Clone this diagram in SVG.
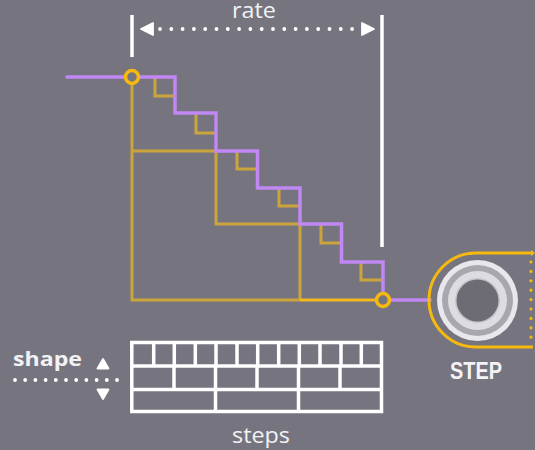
<svg xmlns="http://www.w3.org/2000/svg" width="535" height="450" viewBox="0 0 535 450">
<style>
.lbl{font-family:"Open Sans","Noto Sans","DejaVu Sans",sans-serif;fill:#f2f2f4;}
.gold{fill:none;stroke:#caa43c;stroke-width:3;stroke-linejoin:miter;}
.purple{fill:none;stroke:#c188f5;stroke-width:3.5;stroke-linejoin:miter;}
.white{stroke:#ffffff;stroke-width:3.5;fill:none;}
.dots{stroke:#ffffff;stroke-width:3.8;stroke-linecap:round;}
.tri{fill:#ffffff;stroke:#ffffff;stroke-width:1.8;stroke-linejoin:round;}
</style>
<rect width="535" height="450" fill="#76757f"/>

<g id="rate-indicator">
  <text class="lbl" x="254" y="18" font-size="21" text-anchor="middle" textLength="44" lengthAdjust="spacingAndGlyphs">rate</text>
  <line class="white" x1="132" y1="15" x2="132" y2="57"/>
  <line class="white" x1="382" y1="15" x2="382" y2="247"/>
  <path class="tri" d="M141,29 L153,23 L153,35 Z"/>
  <path class="tri" d="M374,29 L362,23 L362,35 Z"/>
  <line class="dots" x1="160" y1="29" x2="353" y2="29" stroke-dasharray="0 11.3"/>
</g>

<g id="connectors">
  <path class="gold" d="M132,77 L132,300 L300,300"/>
  <path class="gold" d="M132,151 L216,151 L216,224 L300,224 L300,300"/>
  <line x1="300" y1="300" x2="383" y2="300" stroke="#f2b81e" stroke-width="3"/>
  <path class="gold" d="M155,77 L155,96 L175,96 M196,113 L196,133 L216,133 M237,151 L237,169 L257.5,169 M279,188 L279,206 L300,206 M321,224 L321,243 L341.5,243 M361,262 L361,280 L383,280"/>
  <path class="purple" stroke-linecap="round" d="M67,77 L175,77 L175,113 L216,113 L216,151 L257.5,151 L257.5,188 L300,188 L300,224 L341.5,224 L341.5,262 L383,262 L383,300 L430,300"/>
</g>

<g id="start-point">
  <circle cx="132" cy="77" r="6.5" fill="#76757f" stroke="#f6b90f" stroke-width="3.5"/>
</g>
<g id="end-point">
  <circle cx="383" cy="300" r="6.5" fill="#76757f" stroke="#f6b90f" stroke-width="3.5"/>
</g>

<g id="step-jack">
  <path d="M533,253 L476,253 A47,47 0 0 0 476,347 L533,347" fill="none" stroke="#f6b90f" stroke-width="3"/>
  <path d="M531,250 L535,253 L531,256 Z" fill="#f6b90f"/>
  <line x1="531" y1="262" x2="531" y2="340" stroke="#f6b90f" stroke-width="3.2" stroke-linecap="round" stroke-dasharray="0 9.4"/>
  <circle cx="477.5" cy="300.5" r="40.5" fill="#e8e8ec"/>
  <circle cx="477.5" cy="300.5" r="35.5" fill="#a8a7af"/>
  <circle cx="477.5" cy="300.5" r="29.5" fill="#dddde1"/>
  <circle cx="477.5" cy="300.5" r="22.5" fill="#c4c4c9"/>
  <circle cx="477.5" cy="300.5" r="21" fill="#6d6c75"/>
  <text x="476" y="378.5" font-family="'Liberation Sans','DejaVu Sans',sans-serif" font-weight="bold" font-size="23" fill="#f4f4f6" text-anchor="middle" textLength="52" lengthAdjust="spacingAndGlyphs">STEP</text>
</g>

<g id="shape-control">
  <text class="lbl" x="13" y="366" font-size="20" font-weight="bold" textLength="69" lengthAdjust="spacingAndGlyphs">shape</text>
  <line class="dots" x1="15" y1="380" x2="117" y2="380" stroke-dasharray="0 10.2"/>
  <path class="tri" d="M103,359 L108.5,368.5 L97.5,368.5 Z"/>
  <path class="tri" d="M103,399 L108.5,389.5 L97.5,389.5 Z"/>
</g>

<g id="steps-selector">
  <rect class="white" x="131.8" y="342.5" width="249.7" height="69"/>
  <line class="white" x1="131.8" y1="366" x2="381.5" y2="366"/>
  <line class="white" x1="131.8" y1="389.5" x2="381.5" y2="389.5"/>
  <path class="white" d="M153.7,342.5V366 M174.3,342.5V366 M195.3,342.5V366 M216,342.5V366 M237,342.5V366 M257.7,342.5V366 M278.7,342.5V366 M299.3,342.5V366 M320,342.5V366 M341,342.5V366 M361.3,342.5V366"/>
  <path class="white" d="M174,366V389.5 M215.5,366V389.5 M257,366V389.5 M298.5,366V389.5 M340,366V389.5"/>
  <path class="white" d="M215.5,389.5V411.5 M298.5,389.5V411.5"/>
  <text class="lbl" x="261" y="443" font-size="22" text-anchor="middle" textLength="58" lengthAdjust="spacingAndGlyphs">steps</text>
</g>
</svg>
